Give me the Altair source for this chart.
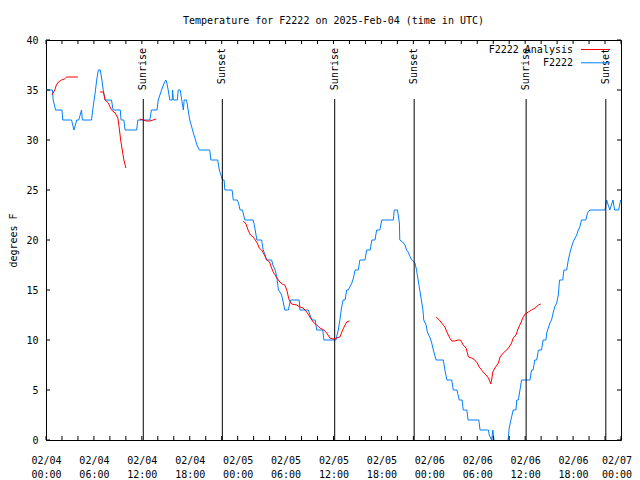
import json
import altair as alt
import pandas as pd

title_text = "Temperature for F2222 on 2025-Feb-04 (time in UTC)"
y_title = "degrees F"
legend_labels = ["F2222 Analysis", "F2222"]
series_colors = ["#ff0000", "#0080ff"]
FONT = "DejaVu Sans Mono"

# Observations (hours since 2025-02-04 00:00 UTC, degrees F)
obs_hours = [0.0, 0.8, 0.9, 1.2, 2.0, 2.1, 3.2, 3.5, 3.85, 4.1, 4.45, 4.55, 5.7, 5.9, 6.15, 6.35, 6.55, 6.8,
             7.0, 7.2, 7.4, 8.2, 8.4, 9.3, 9.4, 9.75, 9.9, 11.35, 11.5, 13.0, 13.2, 13.9, 14.05, 14.6, 14.8,
             15.0, 15.1, 15.3, 15.5, 15.8, 15.85, 15.95, 16.45, 16.55, 16.8, 17.0, 17.2, 17.3, 17.6, 17.8,
             18.0, 18.25, 18.45, 18.65, 18.9, 19.2, 20.5, 20.65, 21.5, 21.7, 21.9, 22.1, 22.3, 22.4, 23.3,
             23.45, 23.95, 24.1, 24.3, 24.6, 24.9, 25.95, 26.2, 26.4, 27.0, 27.2, 27.4, 27.6, 28.25, 28.45,
             28.7, 28.9, 29.1, 29.3, 29.5, 29.7, 29.9, 30.35, 30.5, 30.65, 31.7, 31.8, 32.85, 33.05, 33.3,
             33.7, 33.9, 34.65, 34.8, 36.3, 36.6, 36.8, 37.0, 37.2, 37.45, 37.65, 37.85, 38.05, 38.3, 38.5,
             38.7, 39.1, 39.3, 39.95, 40.15, 40.6, 40.8, 41.2, 41.4, 41.8, 42.05, 43.5, 43.6, 44.0, 44.1,
             44.25, 44.3, 44.65, 44.95, 45.15, 45.35, 45.6, 45.8, 46.2, 46.4, 46.6, 46.8, 47.2, 47.3, 47.6,
             47.75, 48.1, 48.3, 48.5, 48.85, 49.75, 49.95, 50.2, 50.8, 51.0, 51.45, 51.75, 52.1, 52.25, 52.7,
             52.85, 54.2, 54.35, 55.4, 55.5, 55.8, 55.95, 56.1, 56.3, 57.0, 57.7, 57.9, 58.0, 58.3, 58.5,
             58.85, 58.95, 59.15, 59.35, 59.55, 60.6, 60.8, 61.0, 61.2, 61.45, 61.65, 62.05, 62.25, 62.6,
             62.7, 62.9, 63.1, 63.3, 63.5, 63.7, 63.95, 64.15, 64.3, 64.7, 64.85, 65.2, 65.4, 65.6, 65.8,
             66.0, 66.25, 66.45, 66.65, 66.85, 67.05, 67.6, 67.8, 68.1, 70.0, 70.2, 70.4, 70.6, 70.8, 71.0,
             71.2, 71.7, 71.95]
obs_temps = [35, 35, 34, 33, 33, 32, 32, 31, 32, 32, 33, 32, 32, 33.3, 34.7, 36, 37, 37,
             36, 34.8, 34, 34, 33, 33, 32, 32, 31, 31, 32, 32, 33, 33, 34, 35.3, 35.7,
             36, 35.8, 35, 34, 34, 35, 34, 34, 35, 35, 34, 33, 34, 34, 33,
             32, 31.3, 30.7, 30.2, 29.5, 29, 29, 28, 28, 27, 26.5, 26, 26, 25, 25,
             24, 24, 23.7, 23, 23, 22, 22, 21, 20, 20, 19, 18.6, 18, 18, 17.4,
             17, 16.3, 15, 14.8, 14.5, 13.8, 13, 13, 13.6, 14, 14, 13, 13, 12.5, 12,
             12, 11, 11, 10, 10, 11, 12, 13.2, 14, 14, 15, 15, 15.3, 15.7, 16.2,
             17, 17, 18, 18, 19, 19, 20, 20, 21, 21, 22, 22, 23, 23, 22.5,
             21.7, 20, 19.8, 19.5, 19, 18.8, 18.3, 18, 17.7, 17, 16, 15, 13, 12, 11.5,
             10.8, 10.2, 9.7, 9, 8, 8, 7, 6, 6, 5, 5, 4, 4, 3, 3,
             2, 2, 1, 1, 0.5, 0, 1, 0, -1, -2, -1, 0.3, 1.2, 2.3, 3,
             3, 4, 4, 5, 6, 6, 7, 7, 8, 8, 9, 9, 10, 10,
             10.7, 11.2, 11.7, 12, 12.7, 13.3, 13.7, 14.5, 16, 16, 17, 17, 18, 18.7, 19.3,
             19.8, 20.2, 20.5, 21, 21.3, 22, 22, 22.7, 23, 23, 24, 23.5, 23, 23.5, 24,
             23, 23, 24]

# Analysis runs (hours, degrees F), one list per run
ana_hours_runs = [
    [0.75, 1.1, 1.3, 1.55, 1.95, 2.3, 2.6, 4.0],
    [6.75, 7.2, 7.4, 7.8, 8.2, 8.65, 9.0, 9.2, 9.35, 9.55, 9.75, 10.0],
    [11.75, 12.2, 12.6, 13.0, 13.4, 13.8],
    [24.7, 25.05, 25.3, 25.6, 25.95, 26.2, 26.45, 26.7, 27.0, 27.35, 27.65, 28.0, 28.2, 28.45,
     28.7, 28.9, 29.3, 29.6, 29.9, 30.15, 30.35, 30.45, 30.75, 31.4, 31.8, 32.2, 32.65, 33.05,
     33.45, 33.9, 34.3, 34.8, 35.15, 35.55, 36.0, 36.4, 36.8, 37.0, 37.2, 37.45, 37.65, 38.0],
    [48.85, 49.25, 49.55, 49.95, 50.2, 50.5, 50.8, 51.2, 51.6, 51.9, 52.25, 52.6, 52.9, 53.3,
     53.7, 54.0, 54.25, 54.55, 54.75, 55.1, 55.4, 55.7, 55.8, 55.95, 56.2, 56.65, 56.85, 57.25,
     57.7, 58.0, 58.3, 58.5, 58.85, 59.15, 59.45, 59.7, 60.0, 60.4, 60.8, 61.25, 61.65, 61.95],
]
ana_temps_runs = [
    [34.5, 35, 35.5, 35.8, 36, 36.1, 36.3, 36.3],
    [34.8, 34.8, 34, 33.7, 33, 32.7, 32.2, 31, 30, 29, 28, 27.2],
    [32.1, 32.0, 31.9, 31.9, 32.0, 32.1],
    [21.9, 21.6, 21, 20.5, 20.3, 20, 19.7, 19.2, 19, 18.5, 18, 17.8, 17.3, 16.8,
     16.5, 16.2, 15.8, 15.6, 15.5, 15, 14.3, 14, 13.6, 13.5, 13.3, 13.2, 12.8, 12.3,
     11.8, 11.5, 11.2, 11, 10.7, 10.2, 10.1, 10.2, 10.3, 10.7, 11.1, 11.5, 11.8, 11.9],
    [12.3, 12, 11.7, 11.3, 10.8, 10.3, 9.9, 9.9, 10, 10, 9.5, 9.2, 8.3, 8.2,
     8, 7.7, 7.3, 7, 6.8, 6.5, 6.2, 5.6, 6.0, 6.8, 7.2, 7.7, 8.3, 8.7,
     9, 9.3, 9.7, 10.2, 10.5, 11.2, 11.7, 12.2, 12.6, 12.8, 13, 13.2, 13.5, 13.6],
]

sun_hours = [12.18, 22.08, 36.15, 46.1, 60.12, 70.1]
sun_labels = ["Sunrise", "Sunset", "Sunrise", "Sunset", "Sunrise", "Sunset"]

x_ticks = list(range(0, 73, 2))
x_label_dates = ["02/04", "02/04", "02/04", "02/04", "02/05", "02/05", "02/05", "02/05",
                 "02/06", "02/06", "02/06", "02/06", "02/07"]
x_label_times = ["00:00", "06:00", "12:00", "18:00"] * 3 + ["00:00"]
y_ticks = [0, 5, 10, 15, 20, 25, 30, 35, 40]

obs = pd.DataFrame({"h": obs_hours, "t": obs_temps})
ana = pd.concat([pd.DataFrame({"seg": i, "h": hs, "t": ts})
                 for i, (hs, ts) in enumerate(zip(ana_hours_runs, ana_temps_runs))], ignore_index=True)
sun = pd.DataFrame({"h": sun_hours, "label": sun_labels})
xt = pd.DataFrame({"h": x_ticks})
yt = pd.DataFrame({"t": y_ticks})

W, H = 575, 400
xscale = alt.Scale(domain=[0, 72], nice=False, zero=False)
yscale = alt.Scale(domain=[0, 40], nice=False, zero=False)

label_expr = (f"datum.value % 6 == 0 ? [{json.dumps(x_label_dates)}[datum.value / 6], "
              f"{json.dumps(x_label_times)}[datum.value / 6]] : ''")
xaxis = alt.Axis(values=x_ticks, labelExpr=label_expr, ticks=False, domain=False, grid=False,
                 labelPadding=15, labelFlush=False, labelOverlap=False, labelBound=False,
                 labelLineHeight=14.5, labelBaseline="top", title=None,
                 labelAlign={"condition": {"test": "datum.value == 72", "value": "right"}, "value": "center"},
                 labelOffset={"condition": {"test": "datum.value == 72", "value": 10.5}, "value": 0})
yaxis = alt.Axis(values=y_ticks, ticks=False, domain=False, grid=False, labelPadding=8,
                 labelFlush=False, labelOverlap=False, title=y_title, titleX=-33, titleY=200,
                 titleAngle=270, titleAlign="center", titleBaseline="middle")

X = alt.X("h:Q", scale=xscale, axis=xaxis)
Y = alt.Y("t:Q", scale=yscale, axis=yaxis)

base_line = alt.Chart(obs).mark_line(color=series_colors[1], strokeWidth=1, clip=True).encode(x=X, y=Y)
ana_line = alt.Chart(ana).mark_line(color=series_colors[0], strokeWidth=1, clip=True).encode(
    x=X, y=Y, detail="seg:N")

sun_rules = alt.Chart(sun).mark_rule(color="black", strokeWidth=1).encode(
    x=X, y=alt.value(59), y2=alt.value(H))
sun_text = alt.Chart(sun).mark_text(angle=270, align="right", baseline="middle", font=FONT,
                                    fontSize=10, color="black").encode(
    x=X, y=alt.value(8), text="label:N")

tick_b = alt.Chart(xt).mark_rule(color="black").encode(x=X, y=alt.value(H), y2=alt.value(H - 4))
tick_t = alt.Chart(xt).mark_rule(color="black").encode(x=X, y=alt.value(0), y2=alt.value(4))
tick_l = alt.Chart(yt).mark_rule(color="black").encode(y=Y, x=alt.value(0), x2=alt.value(4))
tick_r = alt.Chart(yt).mark_rule(color="black").encode(y=Y, x=alt.value(W), x2=alt.value(W - 4))

title = alt.Chart(pd.DataFrame({"t": [title_text]})).mark_text(
    font=FONT, fontSize=10, color="black", align="center", baseline="middle").encode(
    text="t:N", x=alt.value(W / 2), y=alt.value(-19))

leg = []
for i, (lab, col) in enumerate(zip(legend_labels, series_colors)):
    yy = 9.5 + 13.3 * i
    leg.append(alt.Chart(pd.DataFrame({"t": [lab]})).mark_text(
        font=FONT, fontSize=10, color="black", align="right", baseline="middle").encode(
        text="t:N", x=alt.value(527), y=alt.value(yy)))
    leg.append(alt.Chart(pd.DataFrame({"t": [lab]})).mark_rule(color=col, strokeWidth=1).encode(
        x=alt.value(535), x2=alt.value(564), y=alt.value(yy)))

chart = alt.layer(
    base_line, sun_rules, sun_text, ana_line, tick_b, tick_t, tick_l, tick_r, title, *leg
).properties(
    width=W, height=H,
    padding={"left": 38, "top": 32, "right": 11, "bottom": 40},
    autosize=alt.AutoSizeParams(type="none"),
    background="white",
).configure_view(
    stroke="black", strokeWidth=1
).configure_axis(
    labelFont=FONT, labelFontSize=10, labelColor="black",
    titleFont=FONT, titleFontSize=10, titleColor="black", titleFontWeight="normal",
)

chart.save("out.html", embed_options={"renderer": "svg", "actions": False})
